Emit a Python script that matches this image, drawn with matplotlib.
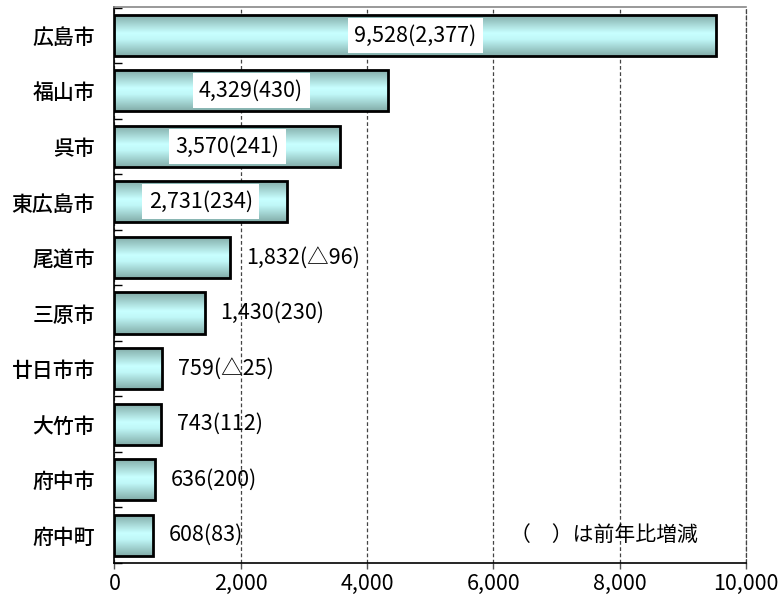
import numpy as np
import matplotlib
matplotlib.use("Agg")
import matplotlib.pyplot as plt
from matplotlib.colors import LinearSegmentedColormap

plt.rcParams['font.family'] = ['Noto Sans CJK JP', 'DejaVu Sans']

# 市町別の値と前年比増減
cities = ['広島市', '福山市', '呉市', '東広島市', '尾道市', '三原市', '廿日市市', '大竹市', '府中市', '府中町']
values = [9528, 4329, 3570, 2731, 1832, 1430, 759, 743, 636, 608]
changes = [2377, 430, 241, 234, -96, 230, -25, 112, 200, 83]
inside = [True, True, True, True, False, False, False, False, False, False]
xticks = [0, 2000, 4000, 6000, 8000, 10000]


def fmt_change(c):
    return f"△{abs(c):,}" if c < 0 else f"{c:,}"


fig = plt.figure(figsize=(7.82, 5.96), dpi=100)
ax = fig.add_axes([0.1464, 0.0554, 0.8076, 0.9329])

# bar gradient: darker teal at the edges, pale cyan in the middle
cmap = LinearSegmentedColormap.from_list(
    'bar', [(0.0, '#7fa8a4'), (0.45, '#c8ffff'), (0.6, '#c0f8f8'), (1.0, '#82aca8')])
grad = np.linspace(0, 1, 256).reshape(-1, 1)

ypos = np.arange(len(cities))
h = 0.74
bars = ax.barh(ypos, values, height=h, color='none', edgecolor='black', linewidth=2, zorder=4)
for b, y, v in zip(bars, ypos, values):
    im = ax.imshow(grad, extent=[0, v, y + h / 2, y - h / 2], origin='upper',
                   aspect='auto', cmap=cmap, zorder=3, interpolation='bilinear')
    im.set_clip_path(b)

# value labels
fs = 15.5
for y, v, c, ins in zip(ypos, values, changes, inside):
    label = f"{v:,}({fmt_change(c)})"
    if ins:
        ax.text(v / 2, y, label, ha='center', va='center', fontsize=fs, zorder=5,
                bbox=dict(boxstyle='square,pad=0.3', facecolor='white', edgecolor='none'))
    else:
        ax.text(v + 250, y, label, ha='left', va='center', fontsize=fs, zorder=5)

ax.text(0.626, 0.05, '（　）は前年比増減', transform=ax.transAxes, fontsize=15,
        ha='left', va='center')

ax.set_xlim(0, 10000)
ax.set_ylim(9.48, -0.51)
ax.set_xticks(xticks)
ax.set_xticklabels([f"{t:,}" for t in xticks], fontsize=fs)
ax.set_yticks(ypos)
ax.set_yticklabels(cities, fontsize=15, fontweight='medium')
ax.set_yticks(np.arange(-0.5, len(cities), 1.0), minor=True)
ax.tick_params(axis='y', which='major', length=0, pad=14)
ax.tick_params(axis='y', which='minor', direction='in', length=6, width=1)
ax.tick_params(axis='x', direction='out', length=4, width=1, colors='#555555', labelcolor='black', pad=3)

ax.grid(axis='x', linestyle=(0, (3, 2)), color='#444444', linewidth=0.9, zorder=1)
ax.set_axisbelow(True)

ax.spines['left'].set_linewidth(1.2)
ax.spines['bottom'].set_linewidth(1.2)
ax.spines['top'].set_color('#888888')
ax.spines['top'].set_linewidth(1.2)
ax.spines['right'].set_linestyle((0, (3, 2)))
ax.spines['right'].set_color('#444444')
ax.spines['right'].set_linewidth(0.9)

fig.savefig('out.png', dpi=100)
